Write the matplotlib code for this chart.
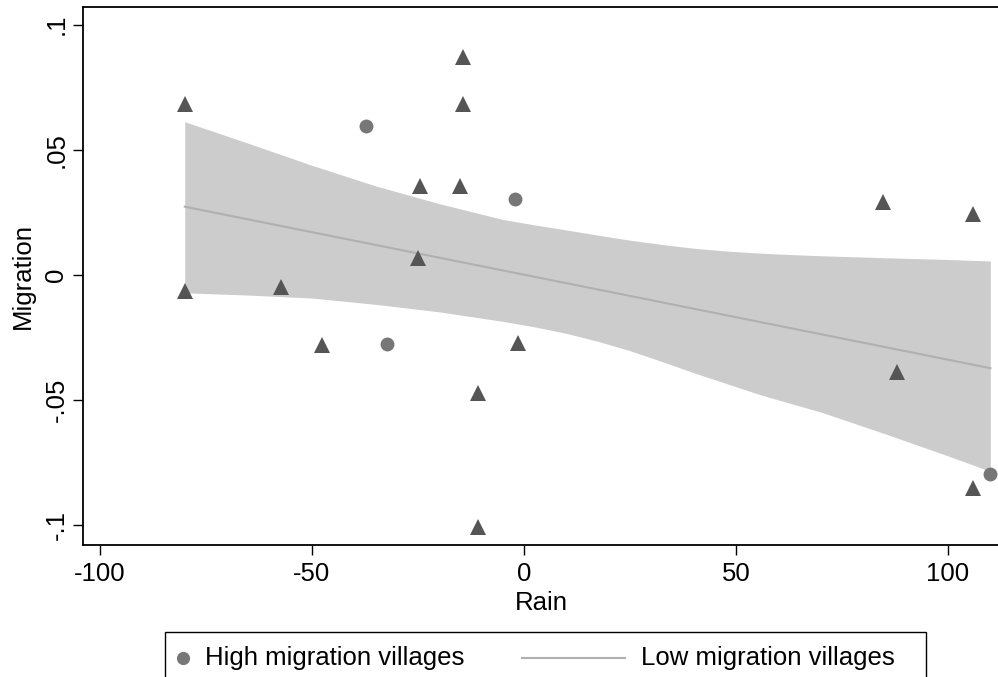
import matplotlib
matplotlib.use('Agg')
from matplotlib import pyplot as plt
from matplotlib.patches import Rectangle
from matplotlib.lines import Line2D

plt.rcParams['font.family'] = ['Liberation Sans', 'DejaVu Sans']

# villages shown as circles (high migration)
high_x = [-37.3, -2.0, -32.2, 109.9]
high_y = [0.0596, 0.0302, -0.0277, -0.0794]

# villages shown as triangles
tri_x = [-80, -80, -57.4, -47.6, -24.5, -15.1, -25.1, -14.3, -14.3, -1.3,
         -10.8, -10.8, 84.6, 106, 88.1, 106]
tri_y = [0.0683, -0.0064, -0.0047, -0.0279, 0.0355, 0.0355, 0.0067, 0.0869,
         0.0683, -0.0273, -0.047, -0.1005, 0.0293, 0.0244, -0.0386, -0.0852]

# fitted line and confidence band
fit_x = [-80, 110]
fit_y = [0.0273, -0.0372]
band_x = [-80, -65, -50, -35, -20, -5, 2.5, 10, 17.5, 25, 32.5, 40, 47.5,
          55, 62.5, 70, 85, 100, 110]
band_hi = [0.0612, 0.0526, 0.0438, 0.0356, 0.0285, 0.0222, 0.0200, 0.0180,
           0.0159, 0.0139, 0.0122, 0.0107, 0.0096, 0.0088, 0.0082, 0.0077,
           0.0069, 0.0062, 0.0056]
band_lo = [-0.0071, -0.0080, -0.0092, -0.0117, -0.0147, -0.0185, -0.0207,
           -0.0233, -0.0265, -0.0302, -0.0345, -0.0390, -0.0432, -0.0474,
           -0.0511, -0.0547, -0.0633, -0.0722, -0.0784]

xticks = [-100, -50, 0, 50, 100]
xlabels = ['-100', '-50', '0', '50', '100']
yticks = [-0.1, -0.05, 0, 0.05, 0.1]
ylabels = ['-.1', '-.05', '0', '.05', '.1']

W, H = 998, 677
fig = plt.figure(figsize=(W / 100, H / 100), dpi=100)
ax = fig.add_axes([83 / W, 132 / H, 915.8 / W, 537.7 / H])

ax.fill_between(band_x, band_lo, band_hi, color='#cccccc', lw=0, zorder=1)
ax.plot(fit_x, fit_y, color='#b0b0b0', lw=1.5, zorder=2)
ax.plot(tri_x, tri_y, '^', color='#555555', ms=11.5, mew=0, zorder=3)
ax.plot(high_x, high_y, 'o', color='#777777', ms=10, mew=0, zorder=3)

ax.set_xlim(-104, 112)
ax.set_ylim(-0.1078, 0.1069)
ax.set_xticks(xticks)
ax.set_xticklabels(xlabels)
ax.set_yticks(yticks)
ax.set_yticklabels(ylabels, rotation=90, va='center')
ax.tick_params(length=7.5, width=1, labelsize=18.5, colors='black')
ax.tick_params(axis='x', pad=5)
ax.tick_params(axis='y', pad=3)
ax.spines['right'].set_visible(False)
for s in ['left', 'bottom', 'top']:
    ax.spines[s].set_linewidth(1.3)

ax.set_xlabel('Rain', fontsize=18.5, labelpad=3)
ax.set_ylabel('Migration', fontsize=18.5, labelpad=7)

# legend box, drawn by hand (it runs past the bottom edge)
def fx(px):
    return px / W

def fy(py):
    return 1 - py / H

fig.add_artist(Rectangle((fx(165), fy(720)), (926 - 165) / W, (720 - 632) / H,
                         fill=False, ec='black', lw=1, transform=fig.transFigure))
fig.add_artist(Line2D([fx(183)], [fy(658)], marker='o', color='#777777', ms=9.5,
                      mew=0, ls='none', transform=fig.transFigure))
fig.text(fx(205), fy(658), 'High migration villages', fontsize=18.5, va='center')
fig.add_artist(Line2D([fx(522), fx(625)], [fy(658), fy(658)], color='#b0b0b0',
                      lw=1.5, transform=fig.transFigure))
fig.text(fx(641), fy(658), 'Low migration villages', fontsize=18.5, va='center')

fig.savefig('out.png', dpi=100)
